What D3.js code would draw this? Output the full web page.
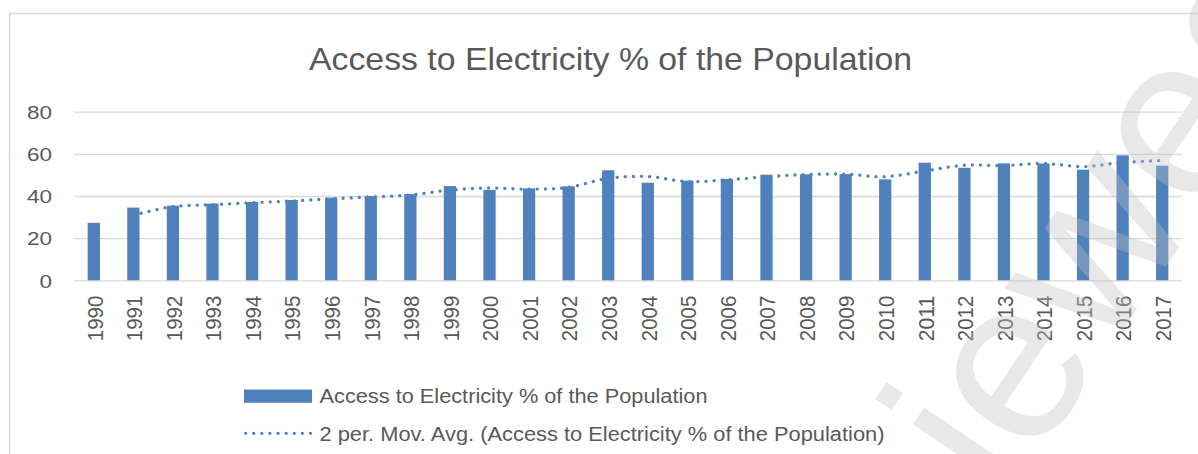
<!DOCTYPE html>
<html>
<head>
<meta charset="utf-8">
<script src="https://cdn.jsdelivr.net/npm/d3@7"></script>
<style>
  html, body { margin: 0; padding: 0; background: #ffffff; }
  svg { display: block; }
  text { font-family: "Liberation Sans", Arial, sans-serif; fill: #595959; }
</style>
</head>
<body>
<div id="chart"></div>
<script>
// ---- data ----
const title = "Access to Electricity % of the Population";
const years = ["1990","1991","1992","1993","1994","1995","1996","1997","1998","1999",
  "2000","2001","2002","2003","2004","2005","2006","2007","2008","2009",
  "2010","2011","2012","2013","2014","2015","2016","2017"];
const access = [27.3,34.5,35.4,36.4,37.2,38.1,39.2,40.0,40.9,44.7,
  42.9,43.6,44.6,52.2,46.3,47.3,48.1,50.1,50.3,50.4,
  47.9,55.8,53.4,55.5,55.4,52.5,59.3,54.4];
const movAvgYears = years.slice(1);
const movAvg = [30.9,34.95,35.9,36.8,37.65,38.65,39.6,40.45,42.8,
  43.8,43.25,44.1,48.4,49.25,46.8,47.7,49.1,50.2,50.35,
  49.15,51.85,54.6,54.45,55.45,53.95,55.9,56.85];
const yTicks = [0, 20, 40, 60, 80];
const seriesName = "Access to Electricity % of the Population";
const trendName = "2 per. Mov. Avg. (Access to Electricity % of the Population)";
const watermark = "iewed";

// ---- layout ----
const W = 1198, H = 454;
const barColor = "#4f81bd";
const gridColor = "#d9d9d9";

const svg = d3.select("#chart").append("svg")
  .attr("width", W).attr("height", H);

svg.append("rect").attr("width", W).attr("height", H).attr("fill", "#fff");

// chart border
svg.append("rect")
  .attr("x", 9.5).attr("y", 13.5)
  .attr("width", W + 20).attr("height", H + 20)
  .attr("fill", "none").attr("stroke", gridColor).attr("stroke-width", 1.5);

// title
svg.append("text")
  .attr("x", 309).attr("y", 70)
  .attr("font-size", 32)
  .attr("textLength", 603).attr("lengthAdjust", "spacingAndGlyphs")
  .text(title);

const x = d3.scaleBand().domain(years).range([74, 1182])
  .paddingInner(0.69).paddingOuter(0.345);
const y = d3.scaleLinear().domain([0, 80]).range([280.3, 111.7]);

// gridlines + y labels
const yAxis = svg.append("g").attr("transform", "translate(74,0)")
  .call(d3.axisLeft(y).tickValues(yTicks).tickSize(-(1182 - 74)).tickPadding(22));
yAxis.select(".domain").remove();
yAxis.selectAll(".tick line").attr("stroke", gridColor).attr("stroke-width", 1.3);
yAxis.selectAll(".tick text")
  .attr("fill", "#595959")
  .attr("font-family", "Liberation Sans, Arial, sans-serif")
  .attr("font-size", 18.6)
  .attr("dy", "0.36em")
  .attr("textLength", d => String(d).length * 12.5)
  .attr("lengthAdjust", "spacingAndGlyphs");

// x labels
const xAxis = svg.append("g").attr("transform", `translate(0,${y(0)})`)
  .call(d3.axisBottom(x).tickSize(0));
xAxis.select(".domain").remove();
xAxis.selectAll(".tick text")
  .attr("fill", "#595959")
  .attr("font-family", "Liberation Sans, Arial, sans-serif")
  .attr("font-size", 22)
  .attr("transform", "rotate(-90)")
  .attr("text-anchor", "end")
  .attr("x", -15.4).attr("y", 0)
  .attr("dy", "0.40em")
  .attr("textLength", 45.5)
  .attr("lengthAdjust", "spacingAndGlyphs");

// bars
svg.append("g").selectAll("rect")
  .data(years.map((yr, i) => ({ yr, v: access[i] })))
  .join("rect")
  .attr("x", d => x(d.yr))
  .attr("width", x.bandwidth())
  .attr("y", d => y(d.v))
  .attr("height", d => y(0) - y(d.v))
  .attr("fill", barColor);

// moving average trendline
const line = d3.line()
  .x(d => x(d.yr) + x.bandwidth() / 2)
  .y(d => y(d.v))
  .curve(d3.curveCatmullRom.alpha(0.5));
svg.append("path")
  .datum(movAvgYears.map((yr, i) => ({ yr, v: movAvg[i] })))
  .attr("d", line)
  .attr("fill", "none")
  .attr("stroke", barColor)
  .attr("stroke-width", 3.3)
  .attr("stroke-linecap", "round")
  .attr("stroke-dasharray", "0.01 8.1");

// legend
const lg = svg.append("g");
lg.append("rect").attr("x", 244).attr("y", 389.5).attr("width", 68).attr("height", 13.3)
  .attr("fill", barColor);
lg.append("text").attr("x", 319.5).attr("y", 402.5).attr("font-size", 20.5)
  .attr("textLength", 388).attr("lengthAdjust", "spacingAndGlyphs")
  .text(seriesName);
lg.append("line").attr("x1", 245.6).attr("x2", 311).attr("y1", 433.3).attr("y2", 433.3)
  .attr("stroke", barColor).attr("stroke-width", 3.3)
  .attr("stroke-linecap", "round").attr("stroke-dasharray", "0.01 8.1");
lg.append("text").attr("x", 319.5).attr("y", 441).attr("font-size", 20.5)
  .attr("textLength", 565).attr("lengthAdjust", "spacingAndGlyphs")
  .text(trendName);

// watermark
svg.append("text")
  .attr("transform", "translate(1005,505) rotate(-56)")
  .attr("font-family", "Open Sans, Liberation Sans, sans-serif")
  .attr("font-size", 230)
  .style("fill", "rgb(192,192,192)")
  .attr("fill-opacity", 0.36)
  .text(watermark);
</script>
</body>
</html>
